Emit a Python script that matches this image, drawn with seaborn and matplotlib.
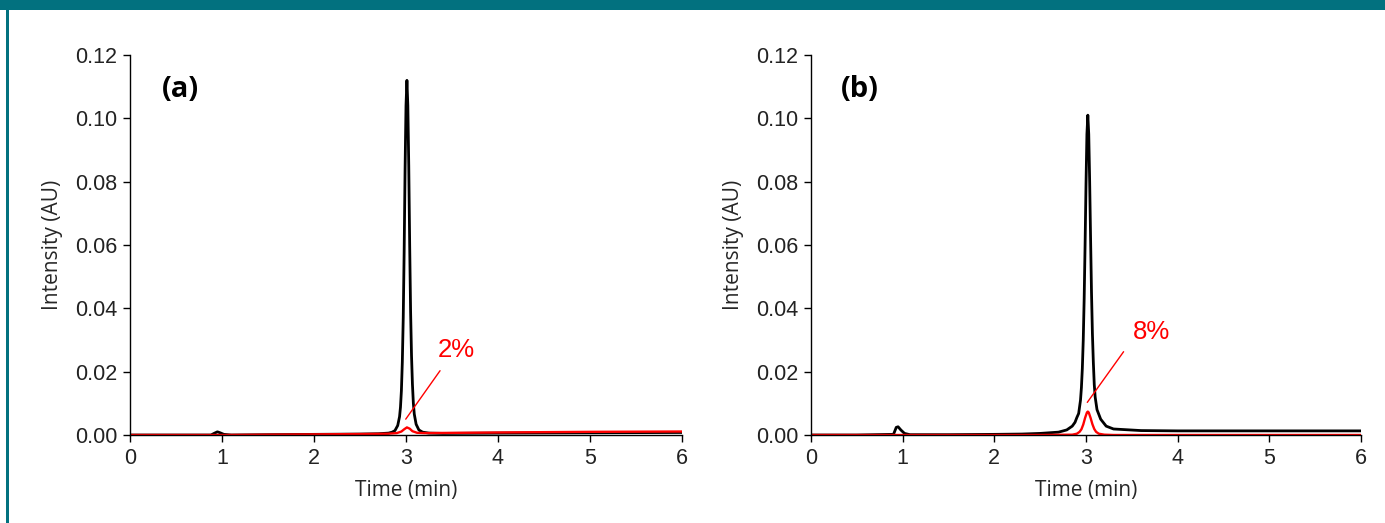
import matplotlib
matplotlib.use("Agg")
import matplotlib.pyplot as plt
from matplotlib.patches import Rectangle
from matplotlib.ticker import FormatStrFormatter
import seaborn as sns
import pandas as pd

# ---------------- data ----------------
# Panel (a) – black trace
a_black_t = [0.0, 0.5, 0.88, 0.92, 0.95, 0.98, 1.02, 1.1, 1.5, 2.0, 2.5, 2.7, 2.81, 2.85,
             2.88, 2.91, 2.93, 2.94, 2.95, 2.96, 2.97, 2.98, 2.99, 3.00, 3.01, 3.02, 3.03,
             3.04, 3.05, 3.06, 3.07, 3.08, 3.09, 3.11, 3.14, 3.18, 3.25, 3.4, 4.0, 5.0, 6.0]
a_black_y = [0.0, 0.0, 0.0, 0.0006, 0.0010, 0.0007, 0.0002, 0.0, 0.0001, 0.0002, 0.0003,
             0.0004, 0.0006, 0.0009, 0.0014, 0.0030, 0.0058, 0.0088, 0.014, 0.023, 0.037,
             0.058, 0.084, 0.104, 0.112, 0.104, 0.085, 0.060, 0.039, 0.025, 0.016, 0.010,
             0.0066, 0.0034, 0.0016, 0.0009, 0.0006, 0.0005, 0.0006, 0.0007, 0.0008]
# Panel (a) – red trace
a_red_t = [0.0, 1.0, 1.5, 2.0, 2.5, 2.8, 2.9, 2.95, 2.98, 3.01, 3.04, 3.07, 3.12, 3.2,
           4.0, 5.0, 6.0]
a_red_y = [0.0, 0.0, 0.0001, 0.0002, 0.0003, 0.0004, 0.0006, 0.0011, 0.0018, 0.0024,
           0.0020, 0.0012, 0.0007, 0.0006, 0.0008, 0.0010, 0.0011]

# Panel (b) – black trace
b_black_t = [0.0, 0.5, 0.9, 0.93, 0.95, 0.98, 1.02, 1.08, 1.5, 2.0, 2.3, 2.5, 2.7, 2.79,
             2.85, 2.88, 2.90, 2.92, 2.94, 2.95, 2.96, 2.97, 2.98, 2.99, 3.00, 3.01, 3.02,
             3.03, 3.04, 3.05, 3.06, 3.07, 3.08, 3.09, 3.10, 3.12, 3.14, 3.16, 3.22, 3.30,
             3.6, 4.0, 5.0, 6.0]
b_black_y = [0.0, 0.0, 0.0002, 0.0024, 0.0026, 0.0016, 0.0005, 0.0001, 0.0001, 0.0002,
             0.0003, 0.0005, 0.0009, 0.0016, 0.0028, 0.0040, 0.0055, 0.0068, 0.011, 0.015,
             0.021, 0.030, 0.043, 0.060, 0.079, 0.095, 0.101, 0.095, 0.080, 0.062, 0.045,
             0.032, 0.023, 0.016, 0.012, 0.0080, 0.0065, 0.0050, 0.0028, 0.0019, 0.0014,
             0.0013, 0.0013, 0.0013]
# Panel (b) – red trace
b_red_t = [0.0, 2.5, 2.85, 2.9, 2.93, 2.95, 2.97, 2.99, 3.01, 3.02, 3.03, 3.05, 3.07,
           3.09, 3.11, 3.14, 3.2, 3.3, 6.0]
b_red_y = [0.0, 0.0, 0.0001, 0.0004, 0.0010, 0.0018, 0.0033, 0.0054, 0.0071, 0.0074,
           0.0071, 0.0054, 0.0034, 0.0019, 0.0010, 0.0004, 0.0001, 0.0, 0.0]

panel_labels = ["(a)", "(b)"]
impurity_labels = ["2%", "8%"]
x_ticks = [0, 1, 2, 3, 4, 5, 6]
y_ticks = [0.00, 0.02, 0.04, 0.06, 0.08, 0.10, 0.12]

# ---------------- style ----------------
sns.set_style("ticks")
plt.rcParams["font.family"] = ["Liberation Sans", "DejaVu Sans"]
TEAL = "#02717f"

W, H = 1385, 523
fig = plt.figure(figsize=(W / 100, H / 100), dpi=100)
fig.patch.set_facecolor("white")

# teal frame (top bar + thin left border)
fig.patches.append(Rectangle((0, 1 - 10 / H), 1, 10 / H, transform=fig.transFigure,
                             facecolor=TEAL, edgecolor="none", zorder=0))
fig.patches.append(Rectangle((6 / W, 0), 3 / W, 1 - 10 / H, transform=fig.transFigure,
                             facecolor=TEAL, edgecolor="none", zorder=0))

ax_a = fig.add_axes([130 / W, 1 - 435 / H, 552 / W, 380 / H])
ax_b = fig.add_axes([811 / W, 1 - 435 / H, 550 / W, 380 / H])

panels = [
    (ax_a, a_black_t, a_black_y, a_red_t, a_red_y, panel_labels[0], impurity_labels[0],
     (2.997, 0.0050), (3.37, 0.0203), (3.55, 0.0268), (0.55, 0.109)),
    (ax_b, b_black_t, b_black_y, b_red_t, b_red_y, panel_labels[1], impurity_labels[1],
     (3.014, 0.0103), (3.41, 0.0263), (3.71, 0.0326), (0.53, 0.109)),
]

for ax, bt, by, rt, ry, plab, ilab, l0, l1, tpos, ppos in panels:
    dfb = pd.DataFrame({"t": bt, "v": by})
    dfr = pd.DataFrame({"t": rt, "v": ry})
    sns.lineplot(data=dfb, x="t", y="v", ax=ax, color="black", linewidth=2.0,
                 estimator=None, sort=False)
    sns.lineplot(data=dfr, x="t", y="v", ax=ax, color="#ff0000", linewidth=1.7,
                 estimator=None, sort=False)
    ax.plot([l0[0], l1[0]], [l0[1], l1[1]], color="#ff0000", linewidth=1.0)
    ax.text(tpos[0], tpos[1], ilab, color="#ff0000", fontsize=18.5, ha="center",
            va="center", family=["Liberation Sans"])
    ax.text(ppos[0], ppos[1], plab, color="black", fontsize=21, fontweight="bold",
            ha="center", va="center", family=["Open Sans", "DejaVu Sans"])

    ax.set_xlim(0, 6)
    ax.set_ylim(0, 0.12)
    ax.set_xticks(x_ticks)
    ax.set_yticks(y_ticks)
    ax.yaxis.set_major_formatter(FormatStrFormatter("%.2f"))
    ax.tick_params(axis="both", direction="out", length=5, width=1.0, color="black",
                   labelsize=15.5, labelcolor="#222222", pad=4)
    for s in ["top", "right"]:
        ax.spines[s].set_visible(False)
    for s in ["left", "bottom"]:
        ax.spines[s].set_color("black")
        ax.spines[s].set_linewidth(1.0)
    ax.set_xlabel("Time (min)", fontsize=15, family=["Open Sans", "DejaVu Sans"],
                  labelpad=8)
    ax.set_ylabel("Intensity (AU)", fontsize=15, family=["Open Sans", "DejaVu Sans"],
                  labelpad=9)
    ax.set_facecolor("none")

fig.savefig("out.png", dpi=100, facecolor="white")
